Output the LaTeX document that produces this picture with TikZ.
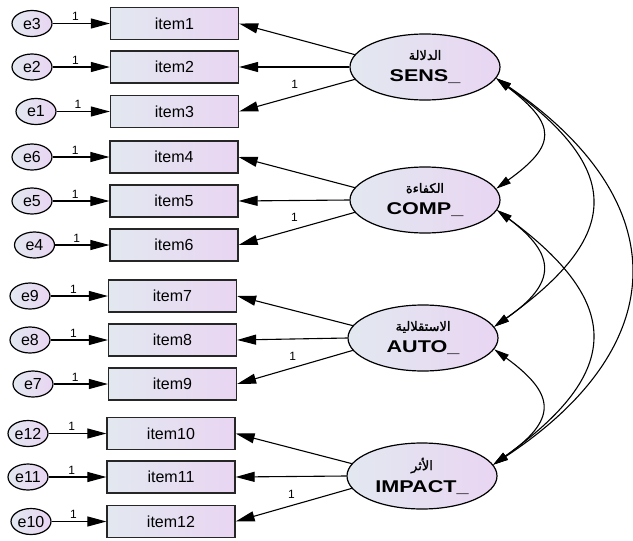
\documentclass[tikz,border=0pt]{standalone}
\usepackage{fontspec}
\usepackage{graphicx}
\setmainfont{Liberation Sans}
\newfontfamily\arabicfont[Script=Arabic,FakeBold=1.2]{DejaVu Sans}
\TeXXeTstate=1
\usetikzlibrary{shapes.geometric,arrows.meta}
\definecolor{cleft}{RGB}{226,232,240}
\definecolor{cright}{RGB}{233,213,242}
\tikzset{
  grad/.style={left color=cleft, right color=cright},
  obs/.style={rectangle, draw=black!85, line width=1.2pt, grad, minimum width=128pt, minimum height=32pt, inner sep=0pt, font=\fontsize{16}{18}\selectfont},
  err/.style={ellipse, draw=black, line width=1.2pt, grad, minimum width=40pt, minimum height=26pt, inner sep=0pt, font=\fontsize{16}{18}\selectfont},
  lat/.style={ellipse, draw=black, line width=1.2pt, grad, minimum width=150pt, minimum height=66pt, inner sep=0pt, align=center, font=\fontsize{17}{22}\selectfont},
  reg/.style={-{Triangle[length=19pt,width=10pt]}, line width=1.1pt},
  cov/.style={{Triangle[length=15pt,width=8pt]}-{Triangle[length=15pt,width=8pt]}, line width=1.1pt},
  one/.style={font=\fontsize{12}{12}\selectfont, inner sep=1pt}
}
\newcommand{\lattext}[2]{\mbox{\fontsize{13}{15}\selectfont\arabicfont\beginR #1\endR}\\\mbox{\bfseries\scalebox{1.27}[1]{#2}}}
\begin{document}
\begin{tikzpicture}[x=1pt,y=-1pt]
\useasboundingbox (0,0) rectangle (633,541);
% latent variables
\node[lat] (sens) at (425,67) {\lattext{الدلالة}{SENS\_}};
\node[lat] (comp) at (425,200) {\lattext{الكفاءة}{COMP\_}};
\node[lat] (auto) at (423,338) {\lattext{الاستقلالية}{AUTO\_}};
\node[lat] (impact) at (422,476) {\lattext{الأثر}{IMPACT\_}};
% items
\node[obs] (item1) at (174.5,23.5) {item1};
\node[obs] (item2) at (174.5,67) {item2};
\node[obs] (item3) at (174.5,111.5) {item3};
\node[obs] (item4) at (174,157) {item4};
\node[obs] (item5) at (174,201) {item5};
\node[obs] (item6) at (174,245) {item6};
\node[obs] (item7) at (172.5,296) {item7};
\node[obs] (item8) at (172.5,340) {item8};
\node[obs] (item9) at (172.5,384) {item9};
\node[obs] (item10) at (171,433.5) {item10};
\node[obs] (item11) at (171,477) {item11};
\node[obs] (item12) at (171,521.5) {item12};
% errors
\node[err] (e3) at (32,23.5) {e3};
\node[err] (e2) at (32,67) {e2};
\node[err] (e1) at (36,111.5) {e1};
\node[err] (e6) at (32,157) {e6};
\node[err] (e5) at (32,201) {e5};
\node[err] (e4) at (34.5,245) {e4};
\node[err] (e9) at (30,296) {e9};
\node[err] (e8) at (30,340) {e8};
\node[err] (e7) at (33,384) {e7};
\node[err] (e12) at (28,433.5) {e12};
\node[err] (e11) at (28,477) {e11};
\node[err] (e10) at (31,521.5) {e10};
% error paths
\foreach \e/\i in {e3/item1,e2/item2,e1/item3,e6/item4,e5/item5,e4/item6,e9/item7,e8/item8,e7/item9,e12/item10,e11/item11,e10/item12}{
  \draw[reg] (\e) -- (\i) node[one, pos=0.4, above=1pt] {1};
}
% loadings
\foreach \l/\a/\b/\c in {sens/item1/item2/item3,comp/item4/item5/item6,auto/item7/item8/item9,impact/item10/item11/item12}{
  \draw[reg] (\l.170) -- (\a.east);
  \draw[reg] (\l.west) -- (\b.east);
  \draw[reg] (\l.190) -- (\c.east) node[one, pos=0.52, above=6pt] {1};
}
% covariances
\draw[cov] (sens.-9) .. controls (557,125) and (557,145) .. (comp.9);
\draw[cov] (sens.-9) .. controls (623,170) and (623,235) .. (auto.9);
\draw[cov] (sens.-9) .. controls (675,200) and (675,345) .. (impact.9);
\draw[cov] (comp.-8) .. controls (557,255) and (557,283) .. (auto.9);
\draw[cov] (comp.-8) .. controls (623,303) and (623,372) .. (impact.9);
\draw[cov] (auto.-9) .. controls (557,395) and (557,420) .. (impact.9);
\end{tikzpicture}
\end{document}
